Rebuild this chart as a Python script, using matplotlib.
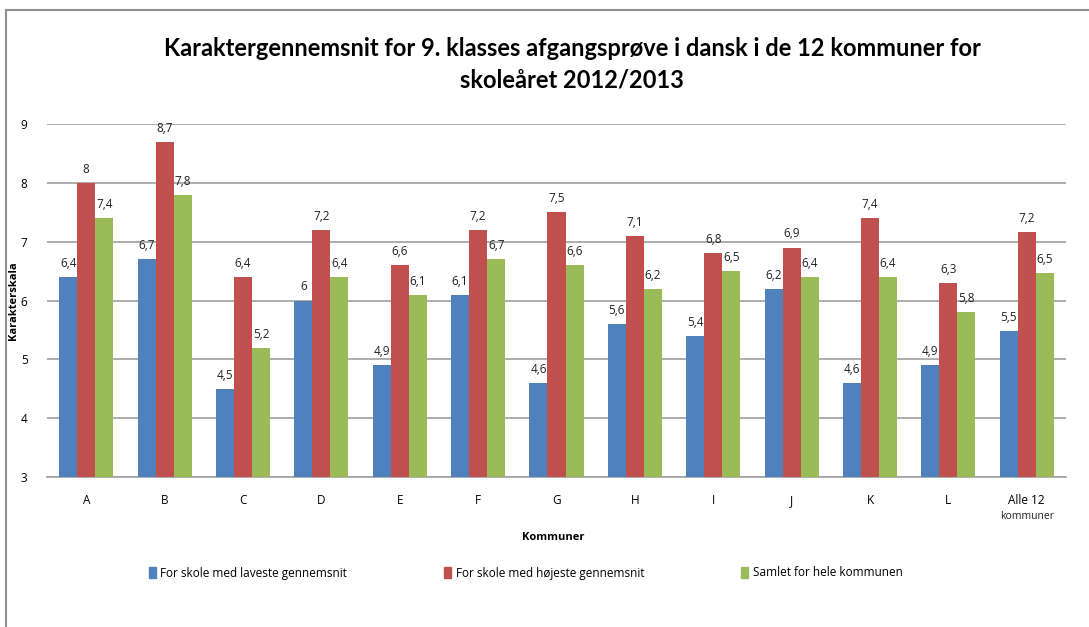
import matplotlib
matplotlib.use("Agg")
import matplotlib.pyplot as plt
import numpy as np
from matplotlib.patches import Rectangle
from matplotlib.lines import Line2D

categories = ["A", "B", "C", "D", "E", "F", "G", "H", "I", "J", "K", "L", "Alle 12\nkommuner"]
lowest = [6.4, 6.7, 4.5, 6.0, 4.9, 6.1, 4.6, 5.6, 5.4, 6.2, 4.6, 4.9, 5.48]
highest = [8.0, 8.7, 6.4, 7.2, 6.6, 7.2, 7.5, 7.1, 6.8, 6.9, 7.4, 6.3, 7.16]
overall = [7.4, 7.8, 5.2, 6.4, 6.1, 6.7, 6.6, 6.2, 6.5, 6.4, 6.4, 5.8, 6.47]
series_names = ["For skole med laveste gennemsnit", "For skole med højeste gennemsnit", "Samlet for hele kommunen"]
colors = ["#4F81BD", "#C0504D", "#9BBB59"]
yticks = [3, 4, 5, 6, 7, 8, 9]

plt.rcParams['font.family'] = ['Open Sans', 'DejaVu Sans']

fig = plt.figure(figsize=(10.89, 6.27), dpi=100)
ax = fig.add_axes([47/1089, 1-477/627, (1066-47)/1089, (477-124)/627])

x = np.arange(len(categories))
w = 0.23


def fmt(v):
    r = round(v, 1)
    if r == int(r):
        return f"{int(r)}"
    return f"{r:.1f}".replace(".", ",")


for i, (vals, c, name) in enumerate(zip([lowest, highest, overall], colors, series_names)):
    ax.bar(x + (i-1)*w, np.array(vals) - 3, bottom=3, width=w, color=c, label=name, zorder=3)
    for xi, v in zip(x + (i-1)*w, vals):
        ax.text(xi, v + 0.12, fmt(v), ha="center", va="bottom", fontsize=8.5, color="#222222", zorder=4)

ax.set_xlim(-0.5, len(categories) - 0.5)
ax.set_ylim(3, 9)
ax.set_yticks(yticks)
ax.set_yticklabels([str(t) for t in yticks], fontsize=8.5)
ax.yaxis.grid(True, color="#A0A0A0", linewidth=1.2, zorder=0)
ax.set_xticks(x)
ax.set_xticklabels([c.split("\n")[0] for c in categories], fontsize=8.5)
ax.text(x[-1], 3 - 0.57, categories[-1].split("\n")[1], ha="center", va="top", fontsize=7.5, color="#222222")
ax.tick_params(axis="both", length=0, pad=12)
ax.tick_params(axis="y", pad=14)
for s in ["left", "right", "top"]:
    ax.spines[s].set_visible(False)
ax.spines["bottom"].set_color("#A0A0A0")
ax.spines["bottom"].set_linewidth(1.2)

ax.set_ylabel("Karakterskala", fontsize=8, fontweight="bold")
ax.yaxis.set_label_coords(-28/1019, 0.5)

fig.text(553/1089, 1-538/627, "Kommuner", ha="center", va="center", fontsize=8, fontweight="bold")

fig.text(572/1089, 1-48/627, "Karaktergennemsnit for 9. klasses afgangsprøve i dansk i de 12 kommuner for",
         ha="center", va="center", fontsize=17, fontweight="bold", family=["Lato", "DejaVu Sans"])
fig.text(572/1089, 1-80/627, "skoleåret 2012/2013",
         ha="center", va="center", fontsize=17, fontweight="bold", family=["Lato", "DejaVu Sans"])

handles = [Rectangle((0, 0), 1, 1, color=c) for c in colors]
fig.legend(handles, series_names, loc="center left", bbox_to_anchor=(138/1089, 1-573/627), ncol=3,
           frameon=False, fontsize=8.5, handlelength=0.6, handleheight=1.0, handletextpad=0.4,
           columnspacing=8.2)

fig.add_artist(Line2D([6/1089, 6/1089], [0, 1-10/627], color="#909090", linewidth=1.5))
fig.add_artist(Line2D([6/1089, 1], [1-10/627, 1-10/627], color="#909090", linewidth=1.5))

fig.savefig("out.png", dpi=100)
